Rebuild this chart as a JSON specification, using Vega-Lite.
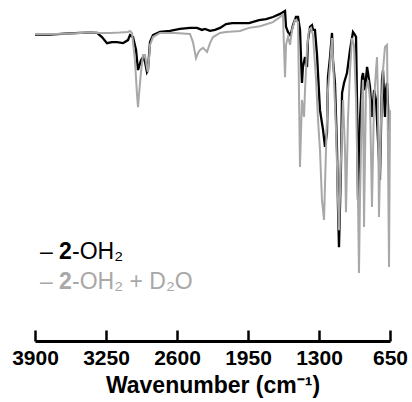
{
  "$schema": "https://vega.github.io/schema/vega-lite/v6.json",
  "width": 355,
  "height": 340,
  "autosize": "none",
  "padding": {"left": 35, "right": 22, "top": 1, "bottom": 61},
  "background": "white",
  "config": {"view": {"stroke": null}},
  "datasets": {
    "black": [
      {"w": 3900, "T": 90.1}, {"w": 3763, "T": 90.1}, {"w": 3625, "T": 90.4}, {"w": 3488, "T": 90.6},
      {"w": 3396, "T": 90.7}, {"w": 3332, "T": 90.6}, {"w": 3287, "T": 89.4}, {"w": 3241, "T": 87.6},
      {"w": 3195, "T": 87.9}, {"w": 3149, "T": 87.9}, {"w": 3094, "T": 87.6}, {"w": 3049, "T": 88.5},
      {"w": 3030, "T": 90.0}, {"w": 3003, "T": 89.4}, {"w": 2975, "T": 85.6}, {"w": 2957, "T": 79.7},
      {"w": 2948, "T": 80.6}, {"w": 2930, "T": 82.6}, {"w": 2911, "T": 83.5}, {"w": 2893, "T": 82.1},
      {"w": 2875, "T": 79.1}, {"w": 2866, "T": 79.7}, {"w": 2847, "T": 87.9}, {"w": 2820, "T": 90.0},
      {"w": 2756, "T": 90.9}, {"w": 2664, "T": 91.2}, {"w": 2573, "T": 91.8}, {"w": 2481, "T": 92.1},
      {"w": 2417, "T": 92.1}, {"w": 2371, "T": 91.5}, {"w": 2344, "T": 91.8}, {"w": 2298, "T": 91.2},
      {"w": 2252, "T": 91.5}, {"w": 2206, "T": 92.1}, {"w": 2151, "T": 93.2}, {"w": 2096, "T": 93.5},
      {"w": 2032, "T": 93.5}, {"w": 1941, "T": 93.5}, {"w": 1849, "T": 94.4}, {"w": 1785, "T": 94.7},
      {"w": 1721, "T": 95.3}, {"w": 1657, "T": 96.2}, {"w": 1611, "T": 97.1}, {"w": 1602, "T": 92.4},
      {"w": 1584, "T": 90.9}, {"w": 1565, "T": 90.0}, {"w": 1556, "T": 90.6}, {"w": 1538, "T": 92.9},
      {"w": 1511, "T": 95.3}, {"w": 1492, "T": 95.3}, {"w": 1474, "T": 91.5}, {"w": 1456, "T": 75.9},
      {"w": 1447, "T": 80.6}, {"w": 1428, "T": 83.5}, {"w": 1410, "T": 80.6}, {"w": 1401, "T": 88.5},
      {"w": 1382, "T": 92.4}, {"w": 1364, "T": 92.9}, {"w": 1355, "T": 91.5}, {"w": 1337, "T": 91.5},
      {"w": 1318, "T": 84.1}, {"w": 1291, "T": 67.9}, {"w": 1263, "T": 62.1}, {"w": 1245, "T": 57.1},
      {"w": 1227, "T": 61.2}, {"w": 1218, "T": 77.6}, {"w": 1199, "T": 83.5}, {"w": 1181, "T": 90.6},
      {"w": 1172, "T": 82.6}, {"w": 1154, "T": 75.9}, {"w": 1135, "T": 56.2}, {"w": 1126, "T": 39.4},
      {"w": 1117, "T": 27.6}, {"w": 1099, "T": 51.2}, {"w": 1089, "T": 72.9}, {"w": 1071, "T": 75.9},
      {"w": 1044, "T": 78.8}, {"w": 1016, "T": 85.6}, {"w": 989, "T": 90.9}, {"w": 970, "T": 90.0},
      {"w": 961, "T": 89.4}, {"w": 952, "T": 70.9}, {"w": 943, "T": 41.5}, {"w": 925, "T": 65.0},
      {"w": 906, "T": 77.6}, {"w": 897, "T": 78.8}, {"w": 879, "T": 73.8}, {"w": 860, "T": 80.6},
      {"w": 851, "T": 78.8}, {"w": 833, "T": 74.7}, {"w": 815, "T": 65.9}, {"w": 796, "T": 73.8},
      {"w": 778, "T": 70.9}, {"w": 760, "T": 59.1}, {"w": 742, "T": 47.4}, {"w": 723, "T": 76.8},
      {"w": 714, "T": 79.7}, {"w": 696, "T": 65.9}, {"w": 687, "T": 73.8}, {"w": 677, "T": 75.9},
      {"w": 659, "T": 62.1}, {"w": 650, "T": 62.1}
    ],
    "gray": [
      {"w": 3900, "T": 90.3}, {"w": 3763, "T": 90.3}, {"w": 3625, "T": 90.4}, {"w": 3488, "T": 90.6},
      {"w": 3396, "T": 90.7}, {"w": 3305, "T": 90.6}, {"w": 3213, "T": 90.6}, {"w": 3122, "T": 90.7},
      {"w": 3049, "T": 90.9}, {"w": 3030, "T": 91.2}, {"w": 3012, "T": 90.6}, {"w": 2985, "T": 82.6},
      {"w": 2966, "T": 72.4}, {"w": 2957, "T": 68.8}, {"w": 2948, "T": 72.4}, {"w": 2930, "T": 79.1},
      {"w": 2911, "T": 84.1}, {"w": 2893, "T": 84.1}, {"w": 2875, "T": 80.3}, {"w": 2866, "T": 79.1},
      {"w": 2847, "T": 87.1}, {"w": 2820, "T": 89.4}, {"w": 2756, "T": 90.6}, {"w": 2618, "T": 90.6},
      {"w": 2481, "T": 90.3}, {"w": 2454, "T": 87.9}, {"w": 2426, "T": 83.2}, {"w": 2408, "T": 84.7},
      {"w": 2389, "T": 85.6}, {"w": 2362, "T": 86.2}, {"w": 2325, "T": 85.0}, {"w": 2298, "T": 87.6},
      {"w": 2270, "T": 89.4}, {"w": 2206, "T": 90.6}, {"w": 2151, "T": 90.9}, {"w": 2023, "T": 91.2},
      {"w": 1941, "T": 92.1}, {"w": 1840, "T": 92.6}, {"w": 1721, "T": 93.8}, {"w": 1630, "T": 95.9},
      {"w": 1611, "T": 77.6}, {"w": 1602, "T": 87.1}, {"w": 1584, "T": 89.4}, {"w": 1565, "T": 87.1},
      {"w": 1547, "T": 91.5}, {"w": 1520, "T": 94.4}, {"w": 1492, "T": 93.8}, {"w": 1474, "T": 51.2},
      {"w": 1456, "T": 70.9}, {"w": 1437, "T": 65.9}, {"w": 1428, "T": 73.8}, {"w": 1410, "T": 85.6},
      {"w": 1392, "T": 91.5}, {"w": 1373, "T": 92.1}, {"w": 1355, "T": 90.0}, {"w": 1327, "T": 76.8},
      {"w": 1309, "T": 65.0}, {"w": 1291, "T": 56.2}, {"w": 1273, "T": 41.5}, {"w": 1254, "T": 35.6},
      {"w": 1236, "T": 56.2}, {"w": 1218, "T": 73.8}, {"w": 1199, "T": 81.2}, {"w": 1181, "T": 89.1},
      {"w": 1163, "T": 76.8}, {"w": 1144, "T": 62.1}, {"w": 1126, "T": 41.5}, {"w": 1117, "T": 32.6},
      {"w": 1099, "T": 53.2}, {"w": 1080, "T": 70.9}, {"w": 1062, "T": 56.2}, {"w": 1053, "T": 37.9},
      {"w": 1035, "T": 65.0}, {"w": 1016, "T": 79.7}, {"w": 998, "T": 89.1}, {"w": 980, "T": 87.1},
      {"w": 961, "T": 70.9}, {"w": 943, "T": 41.5}, {"w": 934, "T": 20.0}, {"w": 925, "T": 41.5},
      {"w": 906, "T": 70.9}, {"w": 897, "T": 76.8}, {"w": 888, "T": 33.5}, {"w": 870, "T": 73.8},
      {"w": 851, "T": 76.8}, {"w": 833, "T": 70.9}, {"w": 815, "T": 39.4}, {"w": 796, "T": 70.9},
      {"w": 778, "T": 79.7}, {"w": 769, "T": 83.5}, {"w": 760, "T": 70.9}, {"w": 751, "T": 36.5},
      {"w": 732, "T": 65.0}, {"w": 714, "T": 79.7}, {"w": 696, "T": 86.5}, {"w": 677, "T": 87.1},
      {"w": 659, "T": 21.8}, {"w": 650, "T": 67.9}
    ],
    "legend": [
      {"dash": "–", "num": "2", "rest": "-OH₂", "series": "2-OH2", "pos": 26.2},
      {"dash": "–", "num": "2", "rest": "-OH₂ + D₂O", "series": "2-OH2 + D2O", "pos": 17.4}
    ]
  },
  "layer": [
    {
      "data": {"name": "black"},
      "mark": {"type": "line", "color": "black", "strokeWidth": 2.3},
      "encoding": {
        "x": {
          "field": "w",
          "type": "quantitative",
          "scale": {"domain": [650, 3900], "reverse": true, "nice": false, "zero": false},
          "axis": {
            "title": "Wavenumber (cm⁻¹)",
            "titleFont": "Liberation Sans",
            "titleFontSize": 23,
            "titleFontWeight": "bold",
            "titleColor": "black",
            "titlePadding": 6,
            "values": [650, 812.5, 975, 1137.5, 1300, 1462.5, 1625, 1787.5, 1950, 2112.5, 2275, 2437.5, 2600, 2762.5, 2925, 3087.5, 3250, 3412.5, 3575, 3737.5, 3900],
            "labelExpr": "(datum.value - 650) % 650 === 0 ? format(datum.value, 'd') : ''",
            "labelFont": "Liberation Sans",
            "labelFontSize": 21,
            "labelFontWeight": "bold",
            "labelColor": "black",
            "labelPadding": 17,
            "labelOverlap": false,
            "labelFlush": false,
            "domainColor": "black",
            "domainWidth": 3,
            "tickColor": "black",
            "tickWidth": 2.5,
            "tickSize": {"condition": {"test": "(datum.value - 650) % 325 === 0", "value": -11}, "value": -6},
            "grid": false
          }
        },
        "y": {
          "field": "T",
          "type": "quantitative",
          "scale": {"domain": [0, 100], "nice": false},
          "axis": null
        }
      }
    },
    {
      "data": {"name": "gray"},
      "mark": {"type": "line", "color": "#a8a8a8", "strokeWidth": 2},
      "encoding": {
        "x": {"field": "w", "type": "quantitative"},
        "y": {"field": "T", "type": "quantitative"}
      }
    },
    {
      "data": {"name": "legend"},
      "mark": {"type": "text", "align": "left", "baseline": "middle", "font": "Liberation Sans", "fontSize": 23},
      "encoding": {
        "x": {"datum": 3854, "type": "quantitative"},
        "y": {"field": "pos", "type": "quantitative"},
        "text": {"field": "dash"},
        "color": {"field": "series", "type": "nominal", "scale": {"domain": ["2-OH2", "2-OH2 + D2O"], "range": ["black", "#a8a8a8"]}, "legend": null}
      }
    },
    {
      "data": {"name": "legend"},
      "mark": {"type": "text", "align": "left", "baseline": "middle", "font": "Liberation Sans", "fontSize": 23, "fontWeight": "bold", "dx": 19},
      "encoding": {
        "x": {"datum": 3854, "type": "quantitative"},
        "y": {"field": "pos", "type": "quantitative"},
        "text": {"field": "num"},
        "color": {"field": "series", "type": "nominal", "legend": null}
      }
    },
    {
      "data": {"name": "legend"},
      "mark": {"type": "text", "align": "left", "baseline": "middle", "font": "Liberation Sans", "fontSize": 23, "dx": 32},
      "encoding": {
        "x": {"datum": 3854, "type": "quantitative"},
        "y": {"field": "pos", "type": "quantitative"},
        "text": {"field": "rest"},
        "color": {"field": "series", "type": "nominal", "legend": null}
      }
    }
  ]
}
